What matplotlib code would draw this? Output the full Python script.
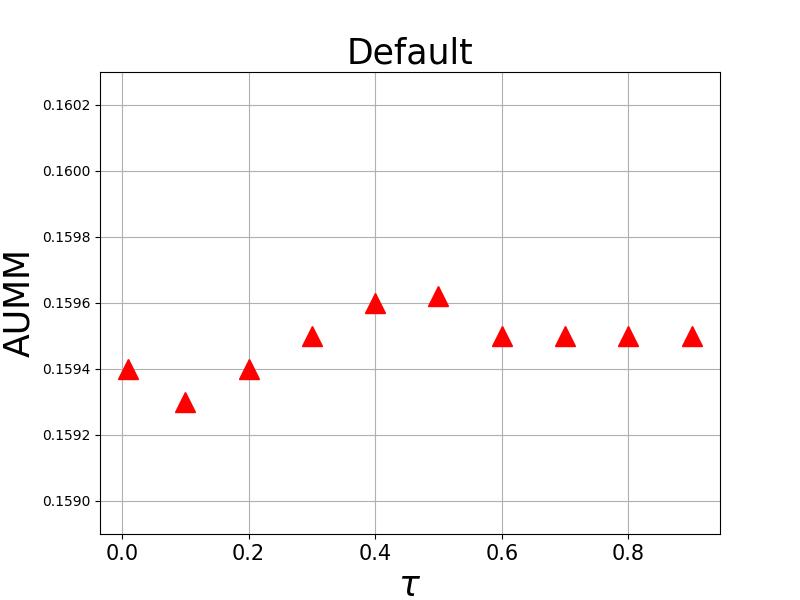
import matplotlib
matplotlib.use("Agg")
import matplotlib.pyplot as plt

tau = [0.01, 0.1, 0.2, 0.3, 0.4, 0.5, 0.6, 0.7, 0.8, 0.9]
aumm = [0.1594, 0.1593, 0.1594, 0.1595, 0.1596, 0.15962, 0.1595, 0.1595, 0.1595, 0.1595]

fig, ax = plt.subplots(figsize=(8, 6), dpi=100)
ax.plot(tau, aumm, linestyle='none', marker='^', color='red', markersize=15)
ax.set_ylim(0.1589, 0.1603)
ax.set_title('Default', fontsize=25)
ax.set_xlabel(r'$\tau$', fontsize=25)
ax.set_ylabel('AUMM', fontsize=25)
ax.tick_params(axis='x', labelsize=15)
ax.grid(True)
fig.savefig('out.png', dpi=100)
